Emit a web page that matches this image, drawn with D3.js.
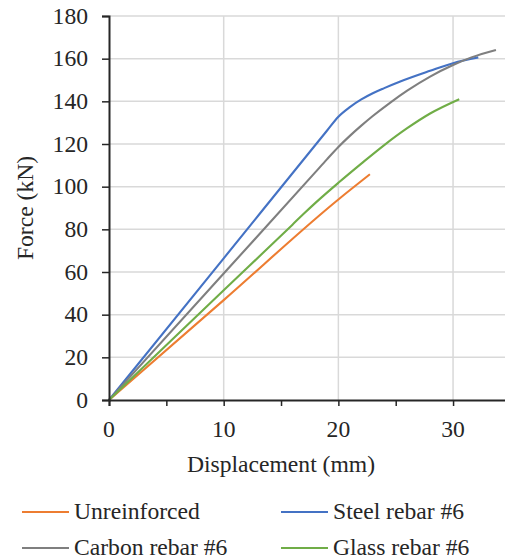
<!DOCTYPE html>
<html><head><meta charset="utf-8">
<script src="https://cdn.jsdelivr.net/npm/d3@7"></script>
<style>body{margin:0;background:#fff}svg{display:block}svg text{font-family:"Liberation Serif","Times New Roman","DejaVu Serif",serif}</style>
</head><body>
<svg id="c" width="505" height="560"></svg>
<script>
const seriesNames = ["Unreinforced", "Steel rebar #6", "Carbon rebar #6", "Glass rebar #6"];
const seriesColors = ["#ED7D31", "#4472C4", "#7F7F7F", "#70AD47"];
const unreinforced = [[0,0],[10,46.8],[20,94],[22.75,105.8]];
const steel = [[0,0],[10,66.4],[19,126.2],[20,132.8],[21,137.3],[22,140.9],[23,143.8],[24,146.2],[25.4,149.3],[28,154.3],[30,157.9],[32.2,160.6]];
const carbon = [[0,0],[10,59.3],[18,106.8],[19,112.8],[20,118.6],[21,123.8],[22,128.6],[23,133.1],[24.5,139.3],[26,145.0],[28,151.6],[30,157.0],[31.6,160.6],[33.74,164.1]];
const glass = [[0,0],[10,51.4],[16,82.2],[17,87.4],[18,92.4],[20,101.8],[22,110.8],[24,119.5],[26,127.4],[28,134.3],[30.54,141]];
const xTicks = [0,10,20,30];
const xMinorTicks = [0,5,10,15,20,25,30,35];
const yTicks = [0,20,40,60,80,100,120,140,160,180];
const xTitle = "Displacement (mm)";
const yTitle = "Force (kN)";

const allSeries = [unreinforced, steel, carbon, glass];
const svg = d3.select("#c");
const txt = "#262626";
const FS = 22.5, SX = 1.05;
const x = d3.scaleLinear().domain([0,35]).range([109, 510.4]);
const y = d3.scaleLinear().domain([0,180]).range([400, 16]);

function label(parent, tx, ty, s, anchor, rot) {
  const g = parent.append("g").attr("transform", `translate(${tx},${ty})` + (rot ? ` rotate(${rot})` : "") + ` scale(${SX},1)`);
  g.append("text").attr("x", 0).attr("y", 0).attr("text-anchor", anchor || "start")
    .style("font-size", FS + "px").attr("fill", txt).text(s);
  return g;
}

// gridlines
svg.append("g").selectAll("line").data(yTicks.filter(d=>d>0)).join("line")
  .attr("x1", x(0)).attr("x2", 505).attr("y1", d=>y(d)).attr("y2", d=>y(d))
  .attr("stroke", "#d9d9d9").attr("stroke-width", 1.5);
svg.append("g").selectAll("line").data(xTicks.filter(d=>d>0)).join("line")
  .attr("x1", d=>x(d)).attr("x2", d=>x(d)).attr("y1", y(0)).attr("y2", y(180))
  .attr("stroke", "#d9d9d9").attr("stroke-width", 1.5);

// series
const line = d3.line().x(d=>x(d[0])).y(d=>y(d[1])).curve(d3.curveMonotoneX);
svg.append("g").selectAll("path").data(allSeries).join("path")
  .attr("d", line).attr("fill", "none")
  .attr("stroke", (d,i)=>seriesColors[i]).attr("stroke-width", 2.1)
  .attr("stroke-linejoin", "round");

// axes
const xAxis = d3.axisBottom(x).tickValues(xMinorTicks).tickSize(6).tickFormat("");
const gx = svg.append("g").attr("transform", `translate(0,${y(0)})`).call(xAxis);
gx.select(".domain").attr("stroke", txt).attr("stroke-width", 2);
gx.selectAll(".tick line").attr("stroke", txt).attr("stroke-width", 1.5);
const xl = svg.append("g");
xTicks.forEach(d => label(xl, x(d), 437, d, "middle"));

const yAxis = d3.axisLeft(y).tickValues(yTicks).tickSize(7).tickFormat("");
const gy = svg.append("g").attr("transform", `translate(${x(0)},0)`).call(yAxis);
gy.select(".domain").attr("stroke", txt).attr("stroke-width", 2);
gy.selectAll(".tick line").attr("stroke", txt).attr("stroke-width", 1.5);
const yl = svg.append("g");
yTicks.forEach(d => label(yl, 88, y(d) + 7.5, d, "end"));

// titles
label(svg, 281, 472, xTitle, "middle");
label(svg, 33, 208, yTitle, "middle", -90);

// legend
const legPos = [[22,512],[281,512],[22,548],[281,548]];
seriesNames.forEach((name, i) => {
  const g = svg.append("g").attr("transform", `translate(${legPos[i][0]},${legPos[i][1]})`);
  g.append("line").attr("x1", 0).attr("x2", 47).attr("y1", 0).attr("y2", 0)
    .attr("stroke", seriesColors[i]).attr("stroke-width", 2.1);
  label(g, 52, 6.5, name, "start");
});
</script>
</body></html>
